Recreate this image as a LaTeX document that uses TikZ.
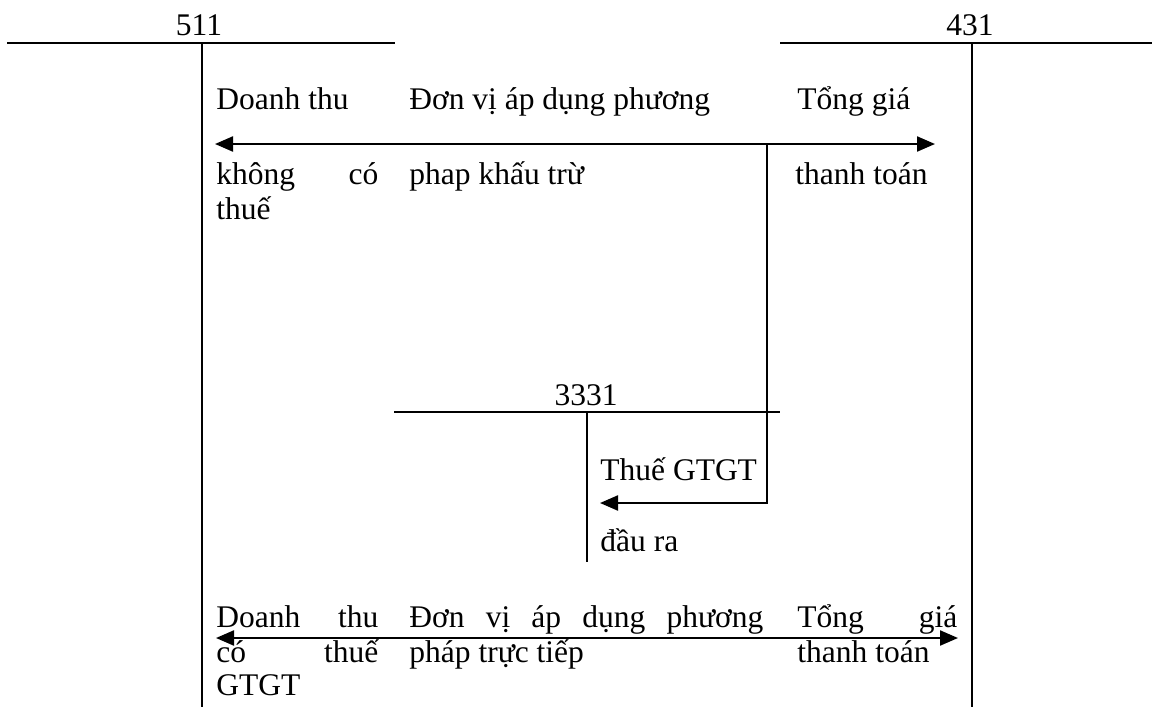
\documentclass[tikz,border=0pt]{standalone}
\usepackage{fontspec}
\setmainfont{Liberation Serif}
\usepackage{tikz}
\usetikzlibrary{arrows.meta}

\tikzset{
    acct/.style={line width=1.1pt},
    flow/.style={line width=1.1pt, -{Triangle[length=9pt,width=7.5pt]}},
    dflow/.style={line width=1.1pt, {Triangle[length=9pt,width=7.5pt]}-{Triangle[length=9pt,width=7.5pt]}},
    txt/.style={anchor=base west, inner sep=0pt, font=\fontsize{15.75}{18}\selectfont},
    accno/.style={anchor=base, inner sep=0pt, font=\fontsize{15.75}{18}\selectfont}
}

\begin{document}
\begin{tikzpicture}[x=0.5pt, y=-0.5pt]
    \useasboundingbox (0,0) rectangle (1152,707);

    % T accounts
    \draw[acct] (7,43) -- (395,43);
    \draw[acct] (202,43) -- (202,707);
    \node[accno] (n511) at (199,35) {511};

    \draw[acct] (780,43) -- (1152,43);
    \draw[acct] (972,43) -- (972,707);
    \node[accno] (n431) at (970,35) {431};

    \draw[acct] (394,412) -- (780,412);
    \draw[acct] (587,412) -- (587,562);
    \node[accno] (n3331) at (586,405) {3331};

    % arrow ends
    \coordinate (top511) at (215,144);
    \coordinate (top431) at (935,144);
    \coordinate (split) at (767,144);
    \coordinate (in3331) at (600,503);
    \coordinate (bot511) at (216,638);
    \coordinate (bot431) at (958,638);

    % khau tru
    \draw[dflow] (top511) -- (top431);
    \draw[flow] (split) |- (in3331);
    \node[txt] (dt1) at (216,109) {Doanh thu};
    \node[txt] (dv1) at (409,109) {Đơn vị áp dụng phương};
    \node[txt] (tg1) at (797,109) {Tổng giá};
    \node[txt] (kc1) at (216,184) {\makebox[81pt][s]{không có}};
    \node[txt] (pp1) at (409,184) {phap khấu trừ};
    \node[txt] (tt1) at (795,184) {thanh toán};
    \node[txt] (th1) at (216,219) {thuế};
    \node[txt] (vat) at (600,480) {Thuế GTGT};
    \node[txt] (dra) at (600,551) {đầu ra};

    % truc tiep
    \draw[dflow] (bot511) -- (bot431);
    \node[txt] (dt2) at (216,627) {\makebox[81pt][s]{Doanh thu}};
    \node[txt] (dv2) at (409,627) {\makebox[177pt][s]{Đơn vị áp dụng phương}};
    \node[txt] (tg2) at (797,627) {\makebox[80pt][s]{Tổng giá}};
    \node[txt] (ct2) at (216,662) {\makebox[81pt][s]{có thuế}};
    \node[txt] (pp2) at (409,662) {pháp trực tiếp};
    \node[txt] (tt2) at (797,662) {thanh toán};
    \node[txt] (gt2) at (216,695) {GTGT};
\end{tikzpicture}
\end{document}
